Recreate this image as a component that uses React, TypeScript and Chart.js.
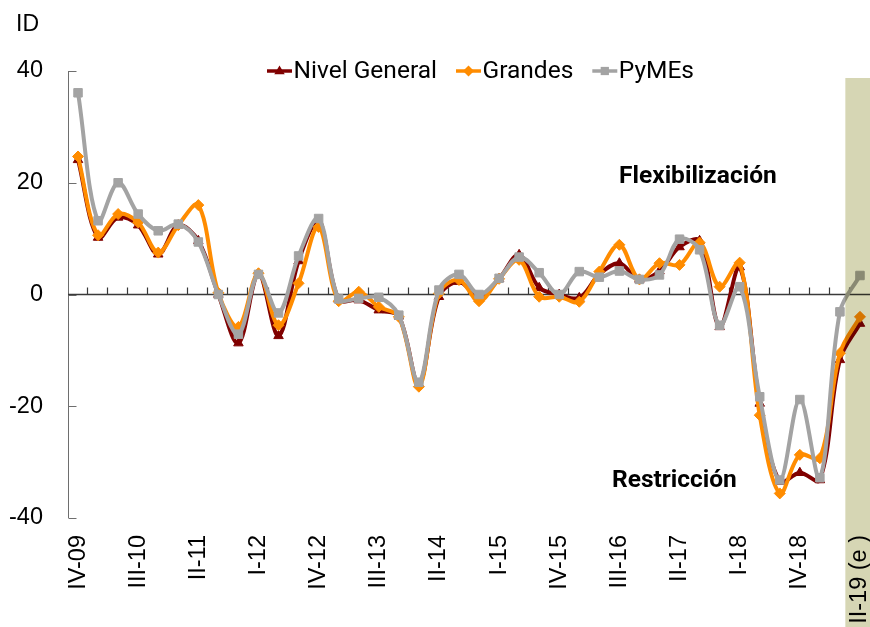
import React, { useEffect, useRef } from 'react';
import { Chart, registerables } from 'chart.js';

Chart.register(...registerables);

const categories = [
  'IV-09', 'I-10', 'II-10', 'III-10', 'IV-10', 'I-11', 'II-11', 'III-11', 'IV-11',
  'I-12', 'II-12', 'III-12', 'IV-12', 'I-13', 'II-13', 'III-13', 'IV-13',
  'I-14', 'II-14', 'III-14', 'IV-14', 'I-15', 'II-15', 'III-15', 'IV-15',
  'I-16', 'II-16', 'III-16', 'IV-16', 'I-17', 'II-17', 'III-17', 'IV-17',
  'I-18', 'II-18', 'III-18', 'IV-18', 'I-19', 'II-19', 'II-19 (e )',
];

const shownTicks = [
  'IV-09', 'III-10', 'II-11', 'I-12', 'IV-12', 'III-13', 'II-14', 'I-15',
  'IV-15', 'III-16', 'II-17', 'I-18', 'IV-18', 'II-19 (e )',
];

const nivelGeneral = [
  24.1, 10.2, 13.8, 12.4, 7.2, 12.4, 9.6, 0.0, -8.7, 3.6,
  -7.4, 6.0, 13.0, -0.9, -1.0, -2.8, -3.9, -16.0, -0.4, 2.3,
  -0.4, 2.8, 7.1, 1.2, 0.0, -0.6, 3.6, 5.6, 2.7, 4.2,
  8.5, 9.6, -5.8, 4.9, -19.5, -33.5, -31.9, -33.2, -11.7, -5.2,
];

const grandes = [
  24.7, 10.6, 14.4, 12.9, 7.5, 12.4, 16.0, 0.3, -5.8, 3.8,
  -5.5, 2.0, 12.1, -1.2, 0.5, -2.2, -4.0, -16.5, 0.2, 2.6,
  -1.2, 2.8, 6.2, -0.4, -0.4, -1.3, 4.1, 8.9, 2.7, 5.6,
  5.3, 9.3, 1.4, 5.7, -21.6, -35.6, -28.7, -29.3, -10.5, -4.0,
];

const pymes = [
  36.1, 13.2, 20.0, 14.4, 11.4, 12.6, 9.4, 0.0, -7.1, 3.6,
  -3.3, 6.9, 13.6, -0.8, -0.7, -0.5, -3.7, -15.7, 0.8, 3.6,
  0.0, 2.9, 6.7, 3.9, 0.0, 4.1, 3.1, 4.2, 2.7, 3.5,
  9.9, 8.0, -5.5, 1.4, -18.3, -33.2, -18.8, -32.8, -3.1, 3.4,
];

const yTicks = [40, 20, 0, -20, -40];

const seriesNames = ['Nivel General', 'Grandes', 'PyMEs'];
const seriesColors = ['#800000', '#FF8C00', '#A3A3A3'];
const seriesShapes = ['triangle', 'rectRot', 'rect'];

const TICK_FONT = '"Liberation Sans", Arial, sans-serif';
const LEGEND_FONT = 'Roboto, "Noto Sans", sans-serif';

function drawMarker(ctx: CanvasRenderingContext2D, shape: string, x: number, y: number, r: number, color: string) {
  ctx.save();
  ctx.fillStyle = color;
  ctx.beginPath();
  if (shape === 'triangle') {
    ctx.moveTo(x, y - r);
    ctx.lineTo(x + r * 0.95, y + r * 0.6);
    ctx.lineTo(x - r * 0.95, y + r * 0.6);
    ctx.closePath();
  } else if (shape === 'rectRot') {
    ctx.moveTo(x, y - r);
    ctx.lineTo(x + r, y);
    ctx.lineTo(x, y + r);
    ctx.lineTo(x - r, y);
    ctx.closePath();
  } else {
    const s = r * 0.75;
    ctx.rect(x - s, y - s, 2 * s, 2 * s);
  }
  ctx.fill();
  ctx.restore();
}

const decor = {
  id: 'decor',
  beforeDatasetsDraw(chart: any) {
    const { ctx, chartArea: a, scales } = chart;
    const x = scales.x;
    const y = scales.y;
    ctx.save();
    // y axis
    ctx.strokeStyle = '#6e6e6e';
    ctx.lineWidth = 1;
    ctx.beginPath();
    const ax = Math.round(a.left) + 0.5;
    ctx.moveTo(ax, y.getPixelForValue(40));
    ctx.lineTo(ax, y.getPixelForValue(-40));
    yTicks.forEach((v) => {
      const py = Math.round(y.getPixelForValue(v)) + 0.5;
      ctx.moveTo(ax, py);
      ctx.lineTo(ax + 8, py);
    });
    ctx.stroke();
    // zero line with category ticks
    const y0 = y.getPixelForValue(0);
    ctx.strokeStyle = '#3a3a3a';
    ctx.lineWidth = 1.5;
    ctx.beginPath();
    ctx.moveTo(a.left, y0);
    ctx.lineTo(a.right, y0);
    ctx.stroke();
    ctx.lineWidth = 1.2;
    ctx.beginPath();
    for (let k = 1; k < categories.length; k++) {
      const bx = Math.round((x.getPixelForValue(k - 1) + x.getPixelForValue(k)) / 2) - 0.5;
      ctx.moveTo(bx, y0);
      ctx.lineTo(bx, y0 - 7);
    }
    ctx.stroke();
    ctx.restore();
  },
  afterDatasetsDraw(chart: any) {
    const { ctx, scales } = chart;
    const x = scales.x;
    const n = categories.length;
    const w = x.getPixelForValue(n - 1) - x.getPixelForValue(n - 2);
    const xs = x.getPixelForValue(n - 1) - 0.73 * w;
    ctx.save();
    ctx.globalCompositeOperation = 'multiply';
    ctx.fillStyle = 'rgb(214,214,180)';
    ctx.fillRect(xs, 78, chart.width - xs, chart.height - 78);
    ctx.restore();
  },
  afterDraw(chart: any) {
    const { ctx } = chart;
    ctx.save();
    // Y title
    ctx.fillStyle = '#000';
    ctx.font = `23px ${TICK_FONT}`;
    ctx.textBaseline = 'middle';
    ctx.textAlign = 'left';
    ctx.fillText('ID', 16, 25);

    // Legend
    ctx.font = `24.5px ${LEGEND_FONT}`;
    let lx = 267;
    const ly = 71;
    seriesNames.forEach((name, i) => {
      ctx.strokeStyle = seriesColors[i];
      ctx.lineWidth = 3.5;
      ctx.beginPath();
      ctx.moveTo(lx, ly);
      ctx.lineTo(lx + 25, ly);
      ctx.stroke();
      drawMarker(ctx, seriesShapes[i], lx + 12.5, ly, 5.5, seriesColors[i]);
      ctx.fillStyle = '#000';
      ctx.fillText(name, lx + 26.5, ly + 1);
      lx += 26.5 + ctx.measureText(name).width + 19;
    });

    // Annotations
    ctx.font = `bold 24.5px ${LEGEND_FONT}`;
    ctx.textBaseline = 'alphabetic';
    ctx.fillText('Flexibilización', 619, 183);
    ctx.fillText('Restricción', 612, 487);
    ctx.restore();
  },
};

export default function App() {
  const canvasRef = useRef<HTMLCanvasElement | null>(null);

  useEffect(() => {
    if (!canvasRef.current) return;
    const mk = (i: number, data: number[], order: number, radius: number) => ({
      label: seriesNames[i],
      data,
      borderColor: seriesColors[i],
      backgroundColor: seriesColors[i],
      pointBackgroundColor: seriesColors[i],
      pointBorderColor: seriesColors[i],
      pointStyle: seriesShapes[i],
      pointRadius: radius,
      pointBorderWidth: 1,
      borderWidth: 4,
      tension: 0.35,
      fill: false,
      order,
    });
    const chart = new Chart(canvasRef.current, {
      type: 'line',
      data: {
        labels: categories,
        datasets: [
          mk(0, nivelGeneral, 2, 5.5),
          mk(1, grandes, 1, 5.5),
          mk(2, pymes, 0, 6),
        ],
      },
      options: {
        animation: false,
        responsive: true,
        maintainAspectRatio: false,
        layout: { autoPadding: false, padding: { top: 71, left: 0, right: 0, bottom: 0 } },
        plugins: {
          legend: { display: false },
          tooltip: { enabled: false },
          title: { display: false },
        },
        scales: {
          x: {
            offset: true,
            grid: { display: false, drawTicks: false },
            border: { display: false },
            ticks: {
              autoSkip: false,
              minRotation: 90,
              maxRotation: 90,
              padding: 17,
              color: '#000',
              font: { family: TICK_FONT, size: 23.5 },
              callback: (_v: any, i: number) => (shownTicks.includes(categories[i]) ? categories[i] : ''),
            },
            afterFit: (s: any) => {
              s.height = 109;
              s.paddingLeft = 0;
              s.paddingRight = 0;
            },
          },
          y: {
            min: -40,
            max: 40,
            grid: { display: false, drawTicks: false },
            border: { display: false },
            ticks: {
              stepSize: 20,
              padding: 25,
              color: '#000',
              font: { family: TICK_FONT, size: 23.5 },
            },
            afterFit: (s: any) => {
              s.width = 68;
            },
          },
        },
      },
      plugins: [decor],
    } as any);
    return () => chart.destroy();
  }, []);

  return (
    <div style={{ position: 'fixed', left: 0, top: 0, width: 870, height: 627, background: '#fff' }}>
      <canvas ref={canvasRef} />
    </div>
  );
}
